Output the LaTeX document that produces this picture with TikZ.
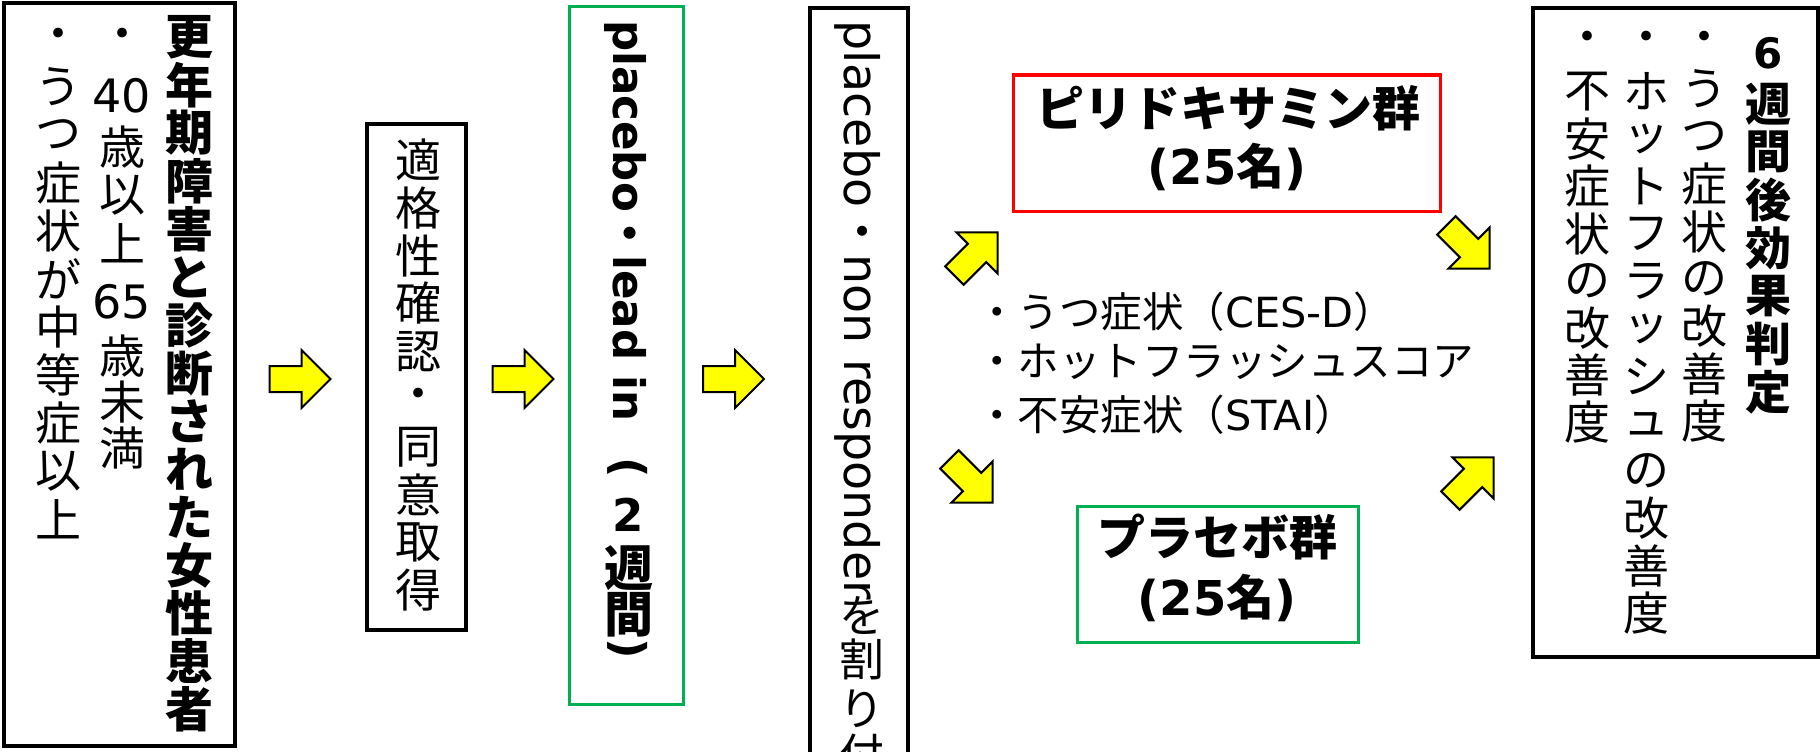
\documentclass[tikz,border=0pt]{standalone}
\usepackage{fontspec}
\setmainfont{Noto Sans CJK JP}
\newfontfamily\lat{DejaVu Sans}
\newcommand\setfs[1]{\fontsize{#1}{#1}\selectfont}
\definecolor{pgreen}{HTML}{00B050}
\definecolor{pyellow}{HTML}{FFFF00}
\begin{document}
\begin{tikzpicture}[x=1pt,y=-1pt,
  frame/.style={draw=black,line width=3.5pt,inner sep=0,fill=none},
  gframe/.style={draw=pgreen,line width=3pt,inner sep=0},
  rframe/.style={draw=red,line width=3pt,inner sep=0},
  txt/.style={inner sep=0,anchor=center},
  yarrow/.pic={\draw[line width=2pt,fill=pyellow,line join=miter]
     (-30.5,-13) -- (1.5,-13) -- (1.5,-29) -- (30.5,0) -- (1.5,29) -- (1.5,13) -- (-30.5,13) -- cycle;}
]
\fill[white] (0,0) rectangle (1820,752);
\useasboundingbox (0,0) rectangle (1820,752);

% ---------- box 1 ----------
\node[frame,minimum width=231pt,minimum height=743pt] (b1) at (119.5,374.5) {};
\foreach \t [count=\i] in {更,年,期,障,害,と,診,断,さ,れ,た,女,性,患,者}
  \node[txt,font={\setfs{48}\bfseries}] (b1a-\i) at (189,{37+48*(\i-1)}) {\t};
\foreach \t/\yy [count=\i] in {・/39,{\lat 40}/96,歳/147,以/195,上/243,{\lat 65}/302,歳/356,未/402,満/448}
  \node[txt,font=\setfs{46}] (b1b-\i) at (122,\yy) {\t};
\node[txt,font=\setfs{46}] (b1c-0) at (58,39) {・};
\foreach \t [count=\i] in {う,つ,症,状,が,中,等,症,以,上}
  \node[txt,font=\setfs{46}] (b1c-\i) at (58,{87+48*(\i-1)}) {\t};

% ---------- box 2 ----------
\node[frame,minimum width=99pt,minimum height=506pt] (b2) at (416.5,377) {};
\foreach \t [count=\i] in {適,格,性,確,認,・,同,意,取,得}
  \node[txt,font=\setfs{46}] (b2t-\i) at (418,{160+47.8*(\i-1)}) {\t};

% ---------- box 3 ----------
\node[gframe,minimum width=114pt,minimum height=697pt] (b3) at (626,355.5) {};
\node[inner sep=0,rotate=-90,anchor=west,font={\setfs{43.5}\bfseries}] (b3l) at (625,20)
  {{\lat placebo}・{\lat lead in}};
\node[txt,rotate=-90,font={\setfs{45}\bfseries\lat}] (b3p1) at (628,468) {(};
\node[txt,font={\setfs{45}\bfseries\lat}] (b3n) at (628,515) {2};
\node[txt,font={\setfs{49}\bfseries}] (b3w1) at (629,568) {週};
\node[txt,font={\setfs{49}\bfseries}] (b3w2) at (629,615) {間};
\node[txt,rotate=-90,font={\setfs{45}\bfseries\lat}] (b3p2) at (628,649) {)};

% ---------- box 4 ----------
\node[frame,minimum width=98pt,minimum height=790pt] (b4) at (859,403) {};
\node[inner sep=0,rotate=-90,anchor=west,font=\setfs{47.5}] (b4l) at (858,20)
  {{\lat placebo}・{\lat non responder}};
\foreach \t/\yy [count=\i] in {を/616,割/659,り/709,付/755}
  \node[txt,font=\setfs{45}] (b4t-\i) at (862,\yy) {\t};

% ---------- horizontal arrows ----------
\pic at (300,379) {yarrow};
\pic at (523,379) {yarrow};
\pic at (733.5,379) {yarrow};

% ---------- groups ----------
\node[rframe,minimum width=427pt,minimum height=136pt] (red) at (1226.5,143) {};
\node[txt,font={\setfs{48}\bfseries}] (red1) at (1228,108) {ピリドキサミン群};
\node[txt,font={\setfs{48}\bfseries}] (red2) at (1227,167) {{\lat(25}名{\lat)}};

\node[gframe,minimum width=281pt,minimum height=136pt] (grn) at (1217.5,574) {};
\node[txt,font={\setfs{48}\bfseries}] (grn1) at (1217,537) {プラセボ群};
\node[txt,font={\setfs{48}\bfseries}] (grn2) at (1217,598) {{\lat(25}名{\lat)}};

\node[inner sep=0,anchor=west,font=\setfs{41.5}] (m1) at (976,312) {・うつ症状（{\lat CES-D}）};
\node[inner sep=0,anchor=west,font=\setfs{41.5}] (m2) at (976,362) {・ホットフラッシュスコア};
\node[inner sep=0,anchor=west,font=\setfs{41.5}] (m3) at (976,415) {・不安症状（{\lat STAI}）};

% ---------- diagonal arrows ----------
\pic[rotate=45] at (976,254) {yarrow};
\pic[rotate=-45] at (971,481) {yarrow};
\pic[rotate=-45] at (1468,247) {yarrow};
\pic[rotate=45] at (1472,479) {yarrow};

% ---------- right box ----------
\node[frame,minimum width=285pt,minimum height=649pt] (b5) at (1675.5,332.5) {};
\node[txt,font={\setfs{42}\bfseries\lat}] (b5a-0) at (1768,53) {6};
\foreach \t [count=\i] in {週,間,後,効,果,判,定}
  \node[txt,font={\setfs{46}\bfseries}] (b5a-\i) at (1768,{104+48*(\i-1)}) {\t};
\node[txt,font=\setfs{46}] (b5b-0) at (1704,42) {・};
\foreach \t [count=\i] in {う,つ,症,状,の,改,善,度}
  \node[txt,font=\setfs{46}] (b5b-\i) at (1704,{89+47.5*(\i-1)}) {\t};
\node[txt,font=\setfs{46}] (b5c-0) at (1646,42) {・};
\foreach \t [count=\i] in {ホ,ッ,ト,フ,ラ,ッ,シ,ュ,の,改,善,度}
  \node[txt,font=\setfs{46}] (b5c-\i) at (1646,{91+47.5*(\i-1)}) {\t};
\node[txt,font=\setfs{46}] (b5d-0) at (1587,42) {・};
\foreach \t [count=\i] in {不,安,症,状,の,改,善,度}
  \node[txt,font=\setfs{46}] (b5d-\i) at (1587,{92+47.2*(\i-1)}) {\t};
\end{tikzpicture}
\end{document}
